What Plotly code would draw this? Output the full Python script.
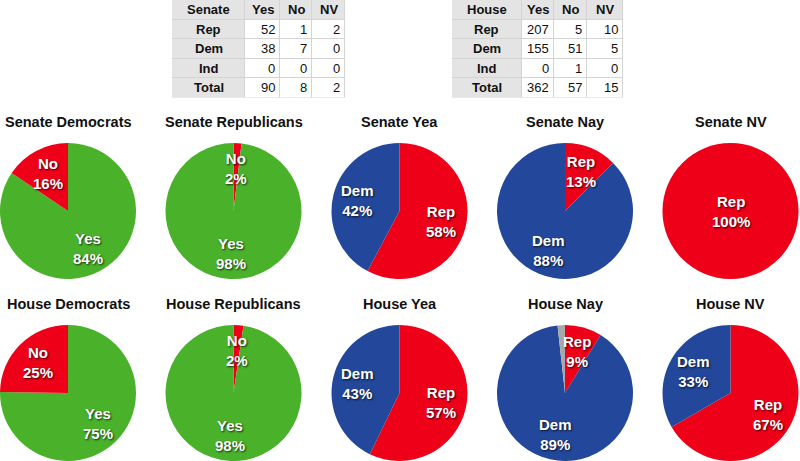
import math
import plotly.graph_objects as go

# ---- data ----
parties = ["Rep", "Dem", "Ind", "Total"]
vote_cols = ["Yes", "No", "NV"]
senate_yes = [52, 38, 0, 90]
senate_no = [1, 7, 0, 8]
senate_nv = [2, 0, 0, 2]
house_yes = [207, 155, 0, 362]
house_no = [5, 51, 1, 57]
house_nv = [10, 5, 0, 15]

GREEN = "#49B22A"
RED = "#EE0018"
BLUE = "#22479B"
GRAY = "#A8A8A8"

# pies: (title, labels, values, colors)
pies = [
    ("Senate Democrats", ["Yes", "No"], [senate_yes[1], senate_no[1]], [GREEN, RED]),
    ("Senate Republicans", ["No", "Yes"], [senate_no[0], senate_yes[0]], [RED, GREEN]),
    ("Senate Yea", ["Rep", "Dem"], [senate_yes[0], senate_yes[1]], [RED, BLUE]),
    ("Senate Nay", ["Rep", "Dem"], [senate_no[0], senate_no[1]], [RED, BLUE]),
    ("Senate NV", ["Rep", "Dem"], [senate_nv[0], senate_nv[1]], [RED, BLUE]),
    ("House Democrats", ["Yes", "No"], [house_yes[1], house_no[1]], [GREEN, RED]),
    ("House Republicans", ["No", "Yes"], [house_no[0], house_yes[0]], [RED, GREEN]),
    ("House Yea", ["Rep", "Dem"], [house_yes[0], house_yes[1]], [RED, BLUE]),
    ("House Nay", ["Rep", "Dem", "Ind"], [house_no[0], house_no[1], house_no[2]], [RED, BLUE, GRAY]),
    ("House NV", ["Rep", "Dem"], [house_nv[0], house_nv[1]], [RED, BLUE]),
]

W, H = 800, 461
R = 68
col_cx = [68, 233.5, 399.5, 565, 730.5]
row_cy = [211, 393]
title_y = [122, 304]
FONT = "Liberation Sans, Arial, Helvetica, sans-serif"
INK = "#111111"

fig = go.Figure()
annotations = []

for i, (title, labels, values, colors) in enumerate(pies):
    r, c = divmod(i, 5)
    cx, cy = col_cx[c], row_cy[r]
    fig.add_trace(go.Pie(
        labels=labels, values=values, sort=False, direction="clockwise", rotation=0,
        marker=dict(colors=colors, line=dict(width=0)),
        textinfo="none", hoverinfo="label+percent", showlegend=False,
        domain=dict(x=[(cx - R) / W, (cx + R) / W], y=[1 - (cy + R) / H, 1 - (cy - R) / H]),
    ))
    annotations.append(dict(
        text="<b>%s</b>" % title, x=cx / W, y=1 - title_y[r] / H, xref="paper", yref="paper",
        showarrow=False, xanchor="center", yanchor="middle",
        font=dict(family=FONT, size=14.5, color=INK),
    ))
    total = sum(values)
    start = 0.0
    for lab, v in zip(labels, values):
        share = v / total
        if v > 0 and lab != "Ind":
            mid = (start + share / 2) * 2 * math.pi
            f = 0 if share >= 0.999 else 0.63
            dx = R * f * math.sin(mid)
            dy = -R * f * math.cos(mid)
            pct = int(math.floor(share * 100 + 0.5))
            annotations.append(dict(
                text="<b>%s<br>%d%%</b>" % (lab, pct),
                x=(cx + dx) / W, y=1 - (cy + dy) / H, xref="paper", yref="paper",
                showarrow=False, xanchor="center", yanchor="middle",
                font=dict(family=FONT, size=15, color="white",
                          shadow="1px 1px 2px rgba(0,0,0,0.75)"),
            ))
        start += share

ROW_H = 19.5


def add_table(name, yes, no, nv, x0, widths, axis_n):
    edges = [0]
    for w in widths:
        edges.append(edges[-1] + w)
    total_w = edges[-1]
    nrows = len(parties) + 1
    z = [[1 if (ri == 0 or ci == 0) else 0 for ci in range(len(widths))] for ri in range(nrows)]
    xa, ya = "x%d" % axis_n, "y%d" % axis_n
    fig.add_trace(go.Heatmap(
        z=z, x=edges, y=list(range(nrows + 1)), xaxis=xa, yaxis=ya,
        colorscale=[[0, "white"], [1, "#E4E4E4"]], zmin=0, zmax=1,
        showscale=False, xgap=1, ygap=1, hoverinfo="skip",
    ))
    cols = [vote_cols[0], vote_cols[1], vote_cols[2]]
    data_cols = [yes, no, nv]
    # header
    header = [name] + cols
    for ci, txt in enumerate(header):
        annotations.append(dict(
            text="<b>%s</b>" % txt, x=(edges[ci] + edges[ci + 1]) / 2, y=0.5,
            xref=xa, yref=ya, showarrow=False, xanchor="center", yanchor="middle",
            font=dict(family=FONT, size=13, color=INK)))
    for ri, p in enumerate(parties):
        annotations.append(dict(
            text="<b>%s</b>" % p, x=(edges[0] + edges[1]) / 2, y=ri + 1.5,
            xref=xa, yref=ya, showarrow=False, xanchor="center", yanchor="middle",
            font=dict(family=FONT, size=13, color=INK)))
        for ci, col in enumerate(data_cols):
            annotations.append(dict(
                text=str(col[ri]), x=edges[ci + 2] - 3, y=ri + 1.5,
                xref=xa, yref=ya, showarrow=False, xanchor="right", yanchor="middle",
                font=dict(family=FONT, size=13, color=INK)))
    axis_common = dict(showgrid=False, zeroline=False, showticklabels=False, ticks="",
                       showline=False, fixedrange=True)
    fig.update_layout(**{
        "xaxis%d" % axis_n: dict(domain=[x0 / W, (x0 + total_w) / W], range=[0, total_w],
                                 anchor=ya, **axis_common),
        "yaxis%d" % axis_n: dict(domain=[1 - nrows * ROW_H / H, 1], range=[nrows, 0],
                                 anchor=xa, **axis_common),
    })


add_table("Senate", senate_yes, senate_no, senate_nv, 172, [73, 35, 32, 33], 1)
add_table("House", house_yes, house_no, house_nv, 452, [70, 32, 33, 36], 2)

fig.update_layout(
    width=W, height=H, margin=dict(l=0, r=0, t=0, b=0),
    paper_bgcolor="white", plot_bgcolor="#D4D4D4",
    annotations=annotations, font=dict(family=FONT),
)
fig.write_html("out.html")
